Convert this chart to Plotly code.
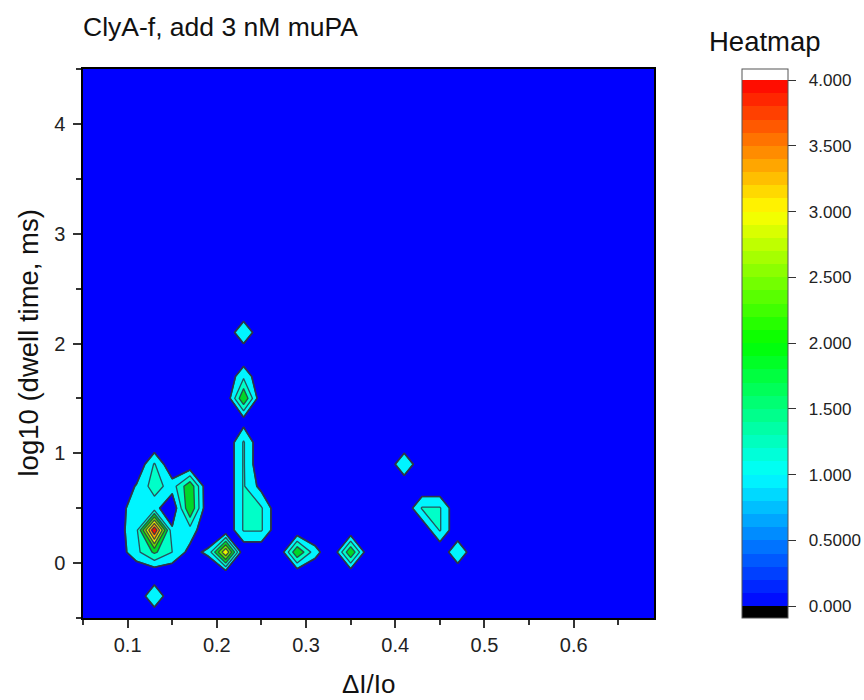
import plotly.graph_objects as go

# ---------------- data ----------------
# grid of bin centres (x = ΔI/Io, y = log10 dwell time)
x_centers = [round(0.05 + 0.02 * i, 2) for i in range(33)]
y_centers = [round(-0.5 + 0.2 * j, 1) for j in range(26)]

# sparse non-zero cells (x, y, value) – layer A
layer_a_x = [0.13,
             0.09, 0.11, 0.13, 0.15, 0.17, 0.19, 0.21,
             0.09, 0.11, 0.13, 0.15, 0.17,
             0.09, 0.11, 0.13, 0.15, 0.17,
             0.11, 0.13, 0.15, 0.17,
             0.13,
             0.29, 0.31, 0.35, 0.41, 0.43, 0.45, 0.45]
layer_a_y = [-0.3,
             0.1, 0.1, 0.1, 0.1, 0.1, 0.1, 0.1,
             0.3, 0.3, 0.3, 0.3, 0.3,
             0.5, 0.5, 0.5, 0.5, 0.5,
             0.7, 0.7, 0.7, 0.7,
             0.9,
             0.1, 0.1, 0.1, 0.9, 0.5, 0.5, 0.3]
layer_a_v = [1.0,
             0.2, 0.85, 1.6, 1.0, 0.3, 0.6, 3.0,
             0.3, 0.85, 4.0, 0.6, 0.8,
             0.2, 0.9, 0.7, 0.0, 2.0,
             0.55, 1.25, 0.75, 1.9,
             1.05,
             2.0, 0.7, 2.0, 1.0, 1.05, 1.05, 1.05]

# layer B
layer_b_x = [0.23, 0.25, 0.23, 0.25, 0.23, 0.25, 0.23, 0.23,
             0.23, 0.23, 0.23, 0.23, 0.47]
layer_b_y = [0.3, 0.3, 0.5, 0.5, 0.7, 0.7, 0.9, 1.1,
             1.3, 1.5, 1.7, 2.1, 0.1]
layer_b_v = [1.05, 1.05, 1.05, 1.05, 1.05, 0.3, 1.05, 1.05,
             0.24, 2.0, 0.9, 1.0, 1.0]

cb_tickvals = [0, 0.5, 1.0, 1.5, 2.0, 2.5, 3.0, 3.5, 4.0]
cb_ticktext = ['0.000', '0.5000', '1.000', '1.500', '2.000', '2.500', '3.000', '3.500', '4.000']
x_ticks = [0.1, 0.2, 0.3, 0.4, 0.5, 0.6]
y_ticks = [0, 1, 2, 3, 4]


def build_grid(xs, ys, vs):
    z = [[0.0 for _ in x_centers] for _ in y_centers]
    for xv, yv, vv in zip(xs, ys, vs):
        i = min(range(len(x_centers)), key=lambda k: abs(x_centers[k] - xv))
        j = min(range(len(y_centers)), key=lambda k: abs(y_centers[k] - yv))
        z[j][i] = vv
    return z


z_a = build_grid(layer_a_x, layer_a_y, layer_a_v)
z_b = build_grid(layer_b_x, layer_b_y, layer_b_v)

# ---------------- colours ----------------
band_colors = [
    'rgba(0,0,255,0)',     # below 0.5 -> transparent (plot bg is blue)
    'rgb(0,245,255)',      # 0.5-1.0
    'rgb(0,255,200)',      # 1.0-1.5
    'rgb(0,215,40)',       # 1.5-2.0
    'rgb(110,230,0)',      # 2.0-2.5
    'rgb(235,245,0)',      # 2.5-3.0
    'rgb(255,160,0)',      # 3.0-3.5
    'rgb(240,20,0)',       # >3.5
]
fill_scale = [[k / 7, c] for k, c in enumerate(band_colors)]


def rainbow(v):
    pts = [(0, (0, 0, 255)), (1, (0, 255, 255)), (2, (0, 255, 0)), (3, (255, 255, 0)), (4, (255, 0, 0))]
    for (a, ca), (b, cb) in zip(pts[:-1], pts[1:]):
        if a <= v <= b:
            t = (v - a) / (b - a)
            return 'rgb(%d,%d,%d)' % tuple(round(ca[m] + (cb[m] - ca[m]) * t) for m in range(3))
    return 'rgb(255,0,0)'


cmin, cmax = -0.09, 4.084


def pos(z):
    return (z - cmin) / (cmax - cmin)


cb_scale = [[0, 'black'], [pos(0), 'black']]
for k in range(40):
    c = rainbow((k + 0.5) * 0.1)
    cb_scale.append([pos(k * 0.1), c])
    cb_scale.append([pos((k + 1) * 0.1), c])
cb_scale.append([pos(4.0), 'white'])
cb_scale.append([1, 'white'])

fill_contours = dict(start=0.5, end=3.5, size=0.5, coloring='fill', showlines=False)
line_contours = dict(start=0.5, end=3.5, size=0.5, coloring='none', showlines=True)
outline_contours = dict(start=0.48, end=0.5, size=0.02, coloring='none', showlines=True)
line = dict(color='rgba(45,55,70,0.85)', width=1.3, smoothing=0)

FONT = 'Liberation Sans, Arial, sans-serif'
NB = '\u00a0\u00a0'

fig = go.Figure()
for z in (z_a, z_b):
    fig.add_trace(go.Contour(x=x_centers, y=y_centers, z=z, autocontour=False, contours=fill_contours,
                             colorscale=fill_scale, showscale=False, line=dict(width=0, smoothing=0),
                             hoverinfo='skip'))
for z in (z_a, z_b):
    fig.add_trace(go.Contour(x=x_centers, y=y_centers, z=z, autocontour=False, contours=line_contours,
                             showscale=False, line=line, hoverinfo='skip'))
    fig.add_trace(go.Contour(x=x_centers, y=y_centers, z=z, autocontour=False, contours=outline_contours,
                             showscale=False, line=line, hoverinfo='skip'))
fig.add_trace(go.Scatter(
    x=[x_centers[0]], y=[y_centers[0]], mode='markers', hoverinfo='skip',
    marker=dict(size=1, opacity=0, color=[0], colorscale=cb_scale, cmin=cmin, cmax=cmax,
                showscale=True,
                colorbar=dict(thickness=46, len=1, lenmode='fraction', y=0.5, yanchor='middle',
                              x=(741.5 - 83) / 571, xanchor='left', xpad=0, ypad=0,
                              outlinewidth=1, outlinecolor='#555',
                              tickvals=cb_tickvals, ticktext=[NB + t for t in cb_ticktext],
                              ticks='outside', ticklen=8, tickwidth=1.2, tickcolor='#333',
                              tickfont=dict(family=FONT, size=17, color='#222'))),
    showlegend=False))

axis_common = dict(showgrid=False, zeroline=False, showline=True, linecolor='black', linewidth=1.5,
                   mirror=True, ticks='outside', ticklen=8, tickwidth=1.5, tickcolor='#333',
                   tickfont=dict(family=FONT, size=20, color='#222'))

fig.update_layout(
    width=864, height=700,
    margin=dict(l=83, r=210, t=69, b=82, autoexpand=False),
    paper_bgcolor='white', plot_bgcolor='rgb(0,0,255)',
    showlegend=False,
    xaxis=dict(range=[0.05, 0.69], tickvals=x_ticks, ticktext=[str(v) for v in x_ticks],
               minor=dict(tickvals=[0.05, 0.15, 0.25, 0.35, 0.45, 0.55, 0.65], ticklen=5,
                          ticks='outside', tickwidth=1.5, tickcolor='#333'),
               **axis_common),
    yaxis=dict(range=[-0.5, 4.5], tickvals=y_ticks, ticktext=[str(v) for v in y_ticks],
               ticklabelstandoff=4,
               minor=dict(tickvals=[-0.5, 0.5, 1.5, 2.5, 3.5, 4.5], ticklen=5,
                          ticks='outside', tickwidth=1.5, tickcolor='#333'),
               **axis_common),
    title=dict(text='ClyA-f, add 3 nM muPA', x=83 / 864, xanchor='left', xref='container',
               y=1 - 27 / 700, yanchor='middle', yref='container',
               font=dict(family=FONT, size=26.5, color='#111')),
    annotations=[
        dict(text='ΔI/Io', xref='paper', yref='paper', x=0.5, y=-(684 - 618) / 549,
             xanchor='center', yanchor='middle', showarrow=False,
             font=dict(family=FONT, size=26, color='#111')),
        dict(text='log10 (dwell time, ms)', xref='paper', yref='paper', x=(28 - 83) / 571, y=0.5,
             xanchor='center', yanchor='middle', textangle=-90, showarrow=False,
             font=dict(family=FONT, size=27.5, color='#111')),
        dict(text='Heatmap', xref='paper', yref='paper', x=(765 - 83) / 571, y=1 + (69 - 42) / 549,
             xanchor='center', yanchor='middle', showarrow=False,
             font=dict(family=FONT, size=27.5, color='#111')),
    ],
)

fig.write_html('out.html')
